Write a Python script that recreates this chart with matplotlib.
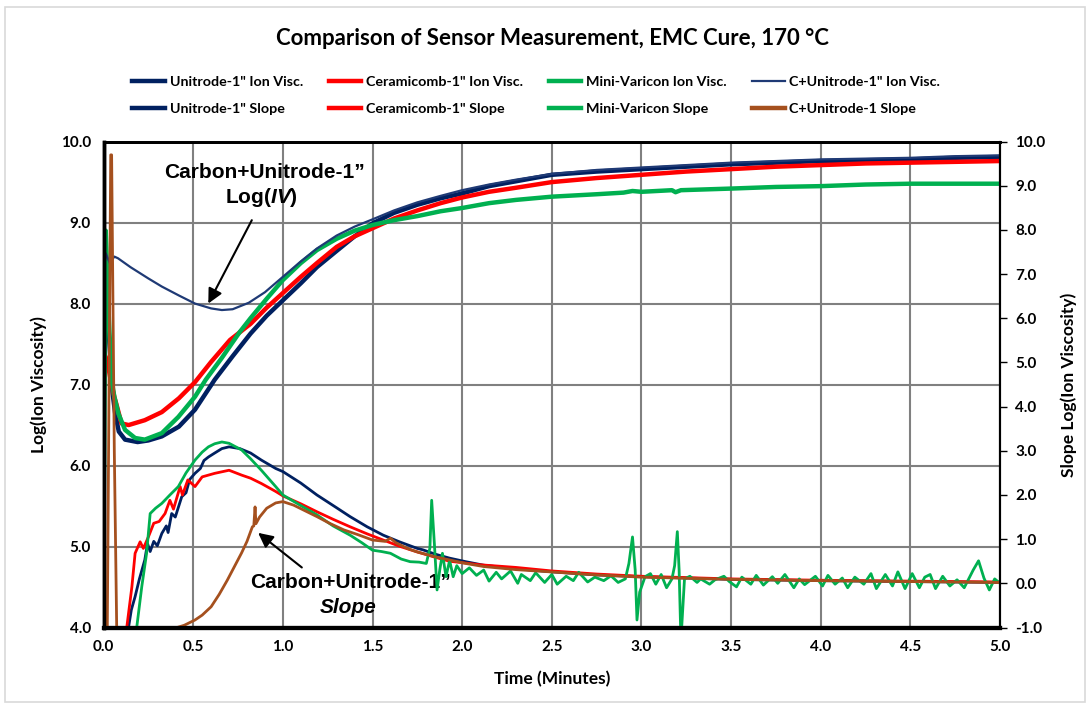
import matplotlib
matplotlib.use('Agg')
import matplotlib.pyplot as plt
from matplotlib.patches import Rectangle
import numpy as np

plt.rcParams['font.family'] = ['Lato', 'DejaVu Sans']
plt.rcParams['mathtext.fontset'] = 'custom'
plt.rcParams['mathtext.rm'] = 'Liberation Sans:bold'
plt.rcParams['mathtext.it'] = 'Liberation Sans:italic:bold'

##### ion viscosity curves (left axis)
t_uni_iv = [0.0, 0.01, 0.03, 0.05, 0.065, 0.085, 0.12, 0.19, 0.25, 0.325, 0.42, 0.51, 0.62, 0.72, 0.82, 0.91,
            1.0, 1.1, 1.19, 1.3, 1.4, 1.5, 1.62, 1.75, 1.88, 2.0, 2.15, 2.3, 2.5, 2.75, 3.0, 3.25, 3.5, 3.75,
            4.0, 4.25, 4.5, 4.75, 5.0]
uni_iv = [8.0, 8.65, 7.6, 6.9, 6.64, 6.42, 6.32, 6.29, 6.31, 6.36, 6.48, 6.69, 7.06, 7.35, 7.63, 7.85,
          8.04, 8.25, 8.45, 8.65, 8.83, 8.99, 9.12, 9.22, 9.30, 9.36, 9.45, 9.51, 9.59, 9.63, 9.66, 9.69, 9.72, 9.74,
          9.76, 9.77, 9.78, 9.80, 9.81]

t_cer_iv = [0.0, 0.02, 0.04, 0.06, 0.075, 0.10, 0.14, 0.23, 0.325, 0.42, 0.51, 0.6, 0.705, 0.82, 0.91,
            1.0, 1.1, 1.19, 1.3, 1.4, 1.5, 1.62, 1.75, 1.88, 2.0, 2.15, 2.3, 2.5, 2.75, 3.0, 3.25, 3.5, 3.75,
            4.0, 4.25, 4.5, 4.75, 5.0]
cer_iv = [7.4, 7.3, 7.05, 6.85, 6.73, 6.52, 6.50, 6.56, 6.66, 6.83, 7.03, 7.28, 7.55, 7.75, 7.95,
          8.13, 8.33, 8.50, 8.70, 8.83, 8.93, 9.05, 9.15, 9.24, 9.31, 9.38, 9.43, 9.50, 9.55, 9.59, 9.63, 9.66, 9.69,
          9.71, 9.73, 9.74, 9.75, 9.76]

t_mini_iv = [0.0, 0.012, 0.03, 0.045, 0.06, 0.083, 0.12, 0.176, 0.23, 0.325, 0.417, 0.51, 0.57, 0.66, 0.76, 0.82, 0.91,
             1.0, 1.1, 1.19, 1.3, 1.4, 1.5, 1.62, 1.75, 1.88, 2.0, 2.15, 2.3, 2.5, 2.75, 2.9, 2.95, 3.0,
             3.17, 3.19, 3.22, 3.5, 3.75, 4.0, 4.25, 4.5, 4.75, 5.0]
mini_iv = [5.2, 8.9, 7.8, 7.06, 6.85, 6.64, 6.44, 6.34, 6.32, 6.40, 6.60, 6.85, 7.06, 7.33, 7.65, 7.82, 8.06,
           8.29, 8.50, 8.66, 8.80, 8.90, 8.97, 9.03, 9.08, 9.14, 9.18, 9.24, 9.28, 9.32, 9.35, 9.37, 9.39, 9.38,
           9.40, 9.375, 9.40, 9.42, 9.44, 9.45, 9.47, 9.48, 9.48, 9.48]

t_cu_iv = [0.0, 0.012, 0.035, 0.06, 0.08, 0.15, 0.25, 0.325, 0.42, 0.51, 0.6, 0.66, 0.72, 0.81, 0.9,
           1.0, 1.1, 1.19, 1.3, 1.4, 1.5, 1.62, 1.75, 1.88, 2.0, 2.15, 2.3, 2.5, 2.75, 3.0, 3.25, 3.5, 3.75,
           4.0, 4.25, 4.5, 4.75, 5.0]
cu_iv = [8.35, 8.62, 8.50, 8.58, 8.56, 8.45, 8.31, 8.21, 8.10, 8.00, 7.94, 7.92, 7.93, 8.01, 8.14,
         8.33, 8.52, 8.68, 8.84, 8.95, 9.04, 9.15, 9.25, 9.33, 9.40, 9.47, 9.53, 9.60, 9.65, 9.68, 9.71, 9.74, 9.76,
         9.78, 9.79, 9.80, 9.82, 9.83]

##### slope curves (right axis)
t_uni_sl = [0.13, 0.14, 0.155, 0.176, 0.20, 0.23, 0.245, 0.26, 0.28, 0.30, 0.325, 0.35, 0.36, 0.38, 0.40, 0.436,
            0.46, 0.48, 0.51, 0.54, 0.56, 0.585, 0.62, 0.66, 0.70, 0.76, 0.82, 0.88, 0.96, 1.0, 1.1, 1.19, 1.3,
            1.375, 1.47, 1.56, 1.65, 1.75, 1.78, 1.85, 1.93, 2.02, 2.12, 2.3, 2.5, 2.75, 3.0, 3.5, 4.0, 4.5, 5.0]
uni_sl = [-1.2, -0.98, -0.6, -0.30, 0.1, 0.53, 0.9, 0.72, 0.95, 0.85, 1.13, 1.3, 1.15, 1.58, 1.5, 1.96,
          2.05, 2.35, 2.49, 2.6, 2.78, 2.86, 2.95, 3.05, 3.09, 3.05, 2.95, 2.79, 2.60, 2.53, 2.27, 2.0, 1.71,
          1.51, 1.28, 1.09, 0.94, 0.79, 0.76, 0.66, 0.57, 0.49, 0.41, 0.33, 0.26, 0.19, 0.15, 0.09, 0.06, 0.04, 0.02]

t_cer_sl = [0.12, 0.13, 0.158, 0.176, 0.204, 0.222, 0.25, 0.28, 0.31, 0.343, 0.37, 0.39, 0.427, 0.44, 0.47, 0.51,
            0.55, 0.62, 0.70, 0.77, 0.82, 0.88, 0.96, 1.0, 1.1, 1.19, 1.28, 1.375, 1.47, 1.56, 1.65, 1.75, 1.85,
            1.93, 2.1, 2.3, 2.5, 2.75, 3.0, 3.5, 4.0, 4.5, 5.0]
cer_sl = [-1.2, -0.98, -0.08, 0.68, 0.94, 0.79, 1.05, 1.36, 1.40, 1.58, 1.88, 1.68, 2.19, 2.0, 2.34, 2.19,
          2.41, 2.49, 2.56, 2.45, 2.38, 2.26, 2.08, 1.98, 1.80, 1.62, 1.45, 1.28, 1.12, 0.98, 0.84, 0.71, 0.59,
          0.50, 0.42, 0.36, 0.28, 0.21, 0.16, 0.10, 0.07, 0.05, 0.03]

t_mini_sl = [0.18, 0.185, 0.213, 0.24, 0.26, 0.29, 0.325, 0.37, 0.417, 0.46, 0.51, 0.55, 0.585, 0.62, 0.66, 0.70,
             0.77, 0.82, 0.88, 0.96, 1.0, 1.1, 1.19, 1.28, 1.375, 1.44, 1.50, 1.55, 1.60, 1.66, 1.71, 1.76, 1.80,
             1.82, 1.83, 1.845, 1.86, 1.875, 1.89, 1.91, 1.93, 1.95, 1.97, 2.0, 2.04, 2.08, 2.12,
             2.15, 2.19, 2.22, 2.27, 2.31, 2.33, 2.38, 2.41, 2.46, 2.50, 2.53, 2.58, 2.62, 2.65, 2.70, 2.74,
             2.79, 2.83, 2.87, 2.91, 2.93, 2.95, 2.965, 2.975, 2.99, 3.02, 3.05, 3.08, 3.11, 3.14, 3.17, 3.185,
             3.20, 3.21, 3.22, 3.24, 3.27, 3.31, 3.33, 3.38, 3.41, 3.46, 3.49, 3.53, 3.56, 3.61, 3.64, 3.68,
             3.73, 3.76, 3.80, 3.85, 3.88, 3.91, 3.97, 4.01, 4.04, 4.08, 4.12, 4.15, 4.19, 4.24, 4.28, 4.31,
             4.36, 4.40, 4.43, 4.47, 4.51, 4.55, 4.58, 4.61, 4.64, 4.68, 4.72, 4.76, 4.80, 4.85, 4.88, 4.91, 4.94,
             4.97, 5.00]
mini_sl = [-1.2, -1.0, -0.08, 0.68, 1.58, 1.70, 1.81, 2.0, 2.19, 2.5, 2.79, 2.97, 3.09, 3.16, 3.20, 3.17,
           3.02, 2.82, 2.56, 2.19, 2.0, 1.76, 1.55, 1.30, 1.09, 0.92, 0.75, 0.72, 0.68, 0.55, 0.49, 0.48, 0.45,
           0.8, 1.88, 0.9, -0.15, 0.3, 0.68, 0.15, 0.52, 0.15, 0.40, 0.22, 0.35, 0.18, 0.30,
           0.05, 0.25, 0.10, 0.28, 0.0, 0.20, 0.06, 0.24, 0.02, 0.20, -0.02, 0.16, 0.06, 0.25, 0.03, 0.14,
           0.06, 0.17, 0.02, 0.10, 0.45, 1.05, 0.3, -0.83, -0.2, 0.15, 0.22, -0.02, 0.20, -0.10, 0.10, 0.4,
           1.17, 0.3, -1.3, 0.1, 0.16, 0.02, 0.10, -0.02, 0.08, 0.16, 0.04, -0.08, 0.14, -0.02, 0.18, -0.04,
           0.15, 0.0, 0.20, -0.10, 0.10, -0.03, 0.16, -0.06, 0.18, -0.02, 0.12, -0.10, 0.14, -0.02, 0.22, -0.12,
           0.20, -0.06, 0.26, -0.12, 0.22, -0.10, 0.14, 0.20, -0.12, 0.16, -0.06, 0.08, -0.10, 0.30, 0.51, 0.12, -0.15,
           0.10, 0.0]

t_cu_sl = [0.02, 0.04, 0.045, 0.06, 0.075, 0.2, 0.38, 0.41, 0.45, 0.51, 0.55, 0.60, 0.645, 0.69, 0.73, 0.77,
           0.80, 0.83, 0.838, 0.845, 0.85, 0.87, 0.91, 0.96, 1.0, 1.06, 1.12, 1.19, 1.26, 1.34, 1.42, 1.50,
           1.57, 1.60, 1.63, 1.70, 1.75, 1.85, 1.93, 2.02, 2.12, 2.3, 2.49, 2.75, 3.0, 3.5, 4.0, 4.5, 5.0]
cu_sl = [-1.5, 9.7, 9.7, 3.0, -1.5, -3.0, -1.5, -1.0, -0.95, -0.83, -0.72, -0.53, -0.25, 0.07, 0.38, 0.69,
         0.95, 1.28, 1.30, 1.73, 1.35, 1.50, 1.70, 1.82, 1.85, 1.77, 1.65, 1.51, 1.36, 1.21, 1.10, 0.98,
         0.95, 1.02, 0.92, 0.78, 0.71, 0.60, 0.53, 0.45, 0.38, 0.31, 0.26, 0.19, 0.14, 0.09, 0.06, 0.04, 0.02]

x_ticks = [0.0, 0.5, 1.0, 1.5, 2.0, 2.5, 3.0, 3.5, 4.0, 4.5, 5.0]
left_ticks = [4.0, 5.0, 6.0, 7.0, 8.0, 9.0, 10.0]
right_ticks = [-1.0, 0.0, 1.0, 2.0, 3.0, 4.0, 5.0, 6.0, 7.0, 8.0, 9.0, 10.0]

navy = '#002060'
red = '#FF0000'
green = '#00B050'
steel = '#1F3A75'
brown = '#A5501E'

fig = plt.figure(figsize=(10.9, 7.08), dpi=100)
fig.patches.append(Rectangle((0.005, 0.008), 0.99, 0.982, transform=fig.transFigure,
                             fill=False, edgecolor='#d9d9d9', linewidth=1.2))
ax = fig.add_axes([0.095, 0.1137, 0.8225, 0.6863])
ax2 = ax.twinx()

l1, = ax.plot(t_uni_iv, uni_iv, color=navy, lw=3.2, label='Unitrode-1" Ion Visc.')
l2, = ax.plot(t_cer_iv, cer_iv, color=red, lw=3.2, label='Ceramicomb-1" Ion Visc.')
l3, = ax.plot(t_mini_iv, mini_iv, color=green, lw=3.2, label='Mini-Varicon Ion Visc.')
l4, = ax.plot(t_cu_iv, cu_iv, color=steel, lw=1.6, label='C+Unitrode-1" Ion Visc.')

s1, = ax2.plot(t_uni_sl, uni_sl, color=navy, lw=2.0, label='Unitrode-1" Slope')
s2, = ax2.plot(t_cer_sl, cer_sl, color=red, lw=2.0, label='Ceramicomb-1" Slope')
s3, = ax2.plot(t_mini_sl, mini_sl, color=green, lw=2.0, label='Mini-Varicon Slope')
s4, = ax2.plot(t_cu_sl, cu_sl, color=brown, lw=2.0, label='C+Unitrode-1 Slope')

ax.set_xlim(0, 5)
ax.set_ylim(4, 10)
ax2.set_ylim(-1, 10)
ax.set_xticks(x_ticks)
ax.set_xticklabels(['%.1f' % v for v in x_ticks])
ax.set_yticks(left_ticks)
ax.set_yticklabels(['%.1f' % v for v in left_ticks])
ax2.set_yticks(right_ticks)
ax2.set_yticklabels(['%.1f' % v for v in right_ticks])

ax.grid(True, color='#808080', lw=1.5)
ax.set_axisbelow(True)
ax.tick_params(axis='both', length=0, labelsize=11, pad=9)
ax2.tick_params(axis='y', length=5, width=1, direction='out', labelsize=11, pad=6)
for lab in ax.get_xticklabels() + ax.get_yticklabels() + ax2.get_yticklabels():
    lab.set_fontweight('bold')

for a in (ax, ax2):
    a.spines['left'].set_linewidth(2.5)
    a.spines['bottom'].set_linewidth(3.0)
    a.spines['top'].set_linewidth(2.0)
    a.spines['right'].set_linewidth(1.5)

ax.set_xlabel('Time (Minutes)', fontsize=12.5, fontweight='bold', labelpad=12)
ax.set_ylabel('Log(Ion Viscosity)', fontsize=12.5, fontweight='bold', labelpad=10)
ax2.set_ylabel('Slope Log(Ion Viscosity)', fontsize=12.5, fontweight='bold', labelpad=11)

fig.text(0.507, 0.946, 'Comparison of Sensor Measurement, EMC Cure, 170 °C',
         ha='center', va='center', fontsize=16, fontweight='bold')

# legend row-wise like the original (matplotlib fills by column)
handles = [l1, s1, l2, s2, l3, s3, l4, s4]
leg = fig.legend(handles=handles, labels=[h.get_label() for h in handles], ncol=4,
                 loc='center', bbox_to_anchor=(0.492, 0.865), frameon=False,
                 prop={'family': ['Lato', 'DejaVu Sans'], 'weight': 'bold', 'size': 10.3},
                 handlelength=2.3, handletextpad=0.3, columnspacing=1.8, labelspacing=1.0)
for h in leg.legend_handles:
    if h.get_label() != 'C+Unitrode-1" Ion Visc.':
        h.set_linewidth(3.2)

# annotations
ann_font = dict(family=['Liberation Sans', 'DejaVu Sans'], fontsize=15, fontweight='bold',
                ha='center', va='center')
ax.text(0.895, 9.62, 'Carbon+Unitrode-1\u201d', **ann_font)
ax.text(0.88, 9.31, r'Log($\mathit{IV}$)', **ann_font)
ax.annotate('', xy=(0.577, 7.97), xytext=(0.834, 9.06),
            arrowprops=dict(arrowstyle='-|>', color='black', lw=1.5, mutation_scale=22))
ax.text(1.375, 4.55, 'Carbon+Unitrode-1\u201d', **ann_font)
ax.text(1.363, 4.25, 'Slope', style='italic', **ann_font)
ax.annotate('', xy=(0.85, 5.19), xytext=(1.118, 4.72),
            arrowprops=dict(arrowstyle='-|>', color='black', lw=1.5, mutation_scale=22))

fig.savefig('out.png', dpi=100)
